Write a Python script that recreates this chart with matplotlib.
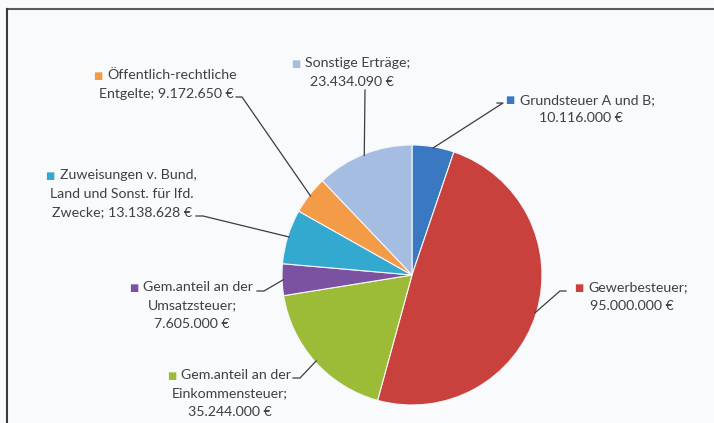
import matplotlib
matplotlib.use("Agg")
import matplotlib.pyplot as plt
from matplotlib.lines import Line2D
import numpy as np

# ---- data ----
categories = [
    "Grundsteuer A und B",
    "Gewerbesteuer",
    "Gem.anteil an der Einkommensteuer",
    "Gem.anteil an der Umsatzsteuer",
    "Zuweisungen v. Bund, Land und Sonst. für lfd. Zwecke",
    "Öffentlich-rechtliche Entgelte",
    "Sonstige Erträge",
]
values = [10116000, 95000000, 35244000, 7605000, 13138628, 9172650, 23434090]
value_labels = ["10.116.000 €", "95.000.000 €", "35.244.000 €", "7.605.000 €",
                "13.138.628 €", "9.172.650 €", "23.434.090 €"]
label_lines = [
    ["Grundsteuer A und B;", "10.116.000 €"],
    ["Gewerbesteuer;", "95.000.000 €"],
    ["Gem.anteil an der", "Einkommensteuer;", "35.244.000 €"],
    ["Gem.anteil an der", "Umsatzsteuer;", "7.605.000 €"],
    ["Zuweisungen v. Bund,", "Land und Sonst. für lfd.", "Zwecke; 13.138.628 €"],
    ["Öffentlich-rechtliche", "Entgelte; 9.172.650 €"],
    ["Sonstige Erträge;", "23.434.090 €"],
]
colors = ["#3b78c2", "#c9413d", "#9cbc38", "#7b51a1", "#33a9cf", "#f39b47", "#a6bde2"]

# ---- layout (image pixel coords, y from top) ----
W, H = 714, 423
center_px = (412, 275)
radius_px = 130
# label block: (center x, first-line y)
label_pos = [(581, 100), (632, 287), (230, 375), (192, 287), (122, 175), (166, 75), (352, 63)]
# leader: (bend point, end point near text)
leader_pts = [((503, 103), (497, 103)),
              ((560, 291), (566, 291)),
              ((300, 378), (293, 378)),
              ((264, 291), (257, 291)),
              ((203, 216), (196, 216)),
              ((242, 97), (236, 97)),
              ((365, 90), (365, 90))]
line_h = 18.5

plt.rcParams['font.family'] = ['Lato', 'DejaVu Sans']
fig = plt.figure(figsize=(W / 100, H / 100), dpi=100)
fig.patch.set_facecolor("#f9fafc")

ax = fig.add_axes([(center_px[0] - radius_px) / W, (H - center_px[1] - radius_px) / H,
                   2 * radius_px / W, 2 * radius_px / H])
wedges, _ = ax.pie(values, colors=colors, startangle=90, counterclock=False, radius=1.0,
                   wedgeprops=dict(edgecolor="#f4f6fa", linewidth=0.8))
ax.set_xlim(-1, 1)
ax.set_ylim(-1, 1)
ax.set_aspect("equal")
ax.axis("off")

# frame lines (top and left)
fig.add_artist(Line2D([7 / W, 1], [1 - 8.7 / H, 1 - 8.7 / H], transform=fig.transFigure,
                      color="#5a5a5a", lw=1.5))
fig.add_artist(Line2D([7 / W, 7 / W], [0, 1 - 8.7 / H], transform=fig.transFigure,
                      color="#3a3a3a", lw=1.5))

fig.canvas.draw()
renderer = fig.canvas.get_renderer()
txtcol = "#404040"
fs = 10.2
marker_w = 12

for i, w in enumerate(wedges):
    mid = np.deg2rad((w.theta1 + w.theta2) / 2)
    pie_pt = ax.transData.transform((np.cos(mid) * 0.99, np.sin(mid) * 0.99))
    (bx, by), (ex, ey) = leader_pts[i]
    xs = [pie_pt[0], bx, ex]
    ys = [pie_pt[1], H - by, H - ey]
    fig.add_artist(Line2D(np.array(xs) / W, np.array(ys) / H, transform=fig.transFigure,
                          color="#3c3c3c", lw=0.9))
    cx, y0 = label_pos[i]
    for j, ln in enumerate(label_lines[i]):
        x = cx + (marker_w / 2 if j == 0 else 0)
        t = fig.text(x / W, 1 - (y0 + j * line_h) / H, ln, ha="center", va="center",
                     fontsize=fs, color=txtcol)
        if j == 0:
            bb = t.get_window_extent(renderer)
            fig.text((bb.x0 - 5) / W, 1 - (y0 + 0.5) / H, "■", ha="right", va="center",
                     fontsize=7, color=colors[i], family=["DejaVu Sans"])

fig.savefig("out.png", dpi=100, facecolor=fig.get_facecolor())
